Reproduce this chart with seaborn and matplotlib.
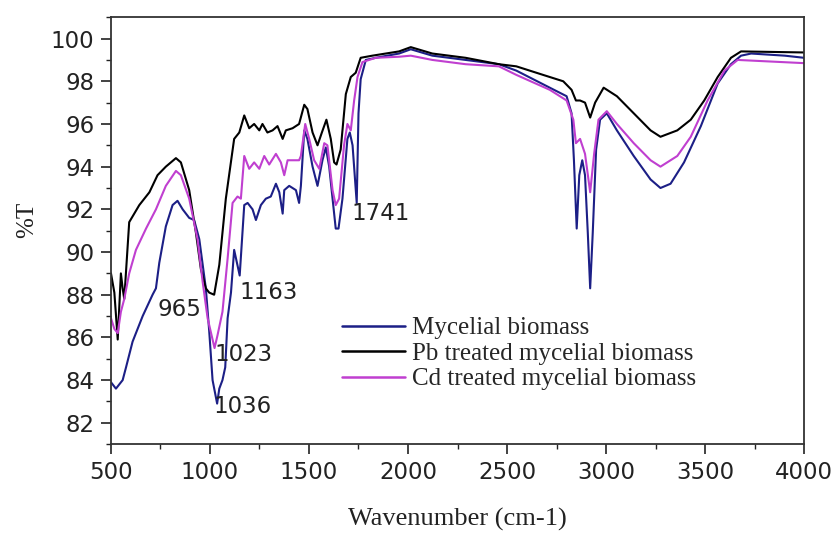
import matplotlib
matplotlib.use("Agg")
import matplotlib.pyplot as plt
import seaborn as sns
import pandas as pd
from matplotlib.ticker import MultipleLocator

# ---- data ----
myc_x = [500, 525, 559, 576, 609, 660, 710, 727, 744, 777, 811, 836, 862, 895, 920,
         946, 979, 996, 1013, 1036, 1047, 1063, 1077, 1089, 1106, 1122, 1150, 1173, 1190, 1215,
         1232, 1257, 1282, 1307, 1333, 1350, 1367, 1375, 1400, 1434, 1450, 1459, 1476, 1492, 1518,
         1543, 1568, 1585, 1602, 1619, 1635, 1649, 1669, 1694, 1706, 1720, 1741, 1750, 1761, 1787,
         1837, 1955, 2014, 2123, 2291, 2459, 2547, 2716, 2801, 2826, 2838, 2852, 2865, 2880, 2894,
         2908, 2920, 2933, 2950, 2970, 3004, 3055, 3140, 3225, 3275, 3326, 3394, 3479, 3564, 3631,
         3682, 3733, 3903, 4000]
myc_y = [83.9, 83.6, 84.0, 84.6, 85.8, 87.0, 88.0, 88.3, 89.5, 91.2, 92.2, 92.4, 92.0, 91.6, 91.5,
         90.6, 88.3, 86.3, 84.0, 82.9, 83.6, 84.0, 84.6, 86.9, 88.1, 90.1, 88.9, 92.2, 92.3, 92.0,
         91.5, 92.2, 92.5, 92.6, 93.2, 92.8, 91.8, 92.9, 93.1, 92.9, 92.3, 93.1, 95.7, 95.3, 94.0,
         93.1, 94.3, 94.9, 94.0, 92.5, 91.1, 91.1, 92.5, 95.3, 95.6, 95.0, 92.3, 96.5, 98.1, 99.0,
         99.1, 99.3, 99.5, 99.2, 99.0, 98.8, 98.5, 97.7, 97.3, 96.5, 94.3, 91.1, 93.6, 94.3, 93.6,
         90.9, 88.3, 90.9, 94.8, 96.2, 96.5, 95.7, 94.5, 93.4, 93.0, 93.2, 94.2, 95.9, 97.9, 98.8,
         99.2, 99.3, 99.2, 99.1]

pb_x = [500, 517, 534, 550, 559, 567, 592, 643, 694, 735, 777, 828, 853, 895, 929,
        954, 979, 996, 1021, 1047, 1080, 1122, 1148, 1173, 1198, 1223, 1249, 1265, 1290, 1316,
        1341, 1367, 1383, 1417, 1450, 1476, 1492, 1518, 1543, 1565, 1588, 1610, 1627, 1639, 1660,
        1686, 1711, 1736, 1761, 1820, 1955, 2014, 2123, 2291, 2459, 2547, 2682, 2784, 2826, 2848,
        2869, 2894, 2920, 2945, 2988, 3055, 3140, 3225, 3275, 3360, 3428, 3496, 3564, 3631, 3682,
        4000]
pb_y = [89.0, 88.1, 85.9, 89.0, 88.3, 87.8, 91.4, 92.2, 92.8, 93.6, 94.0, 94.4, 94.2, 92.9, 90.9,
        89.2, 88.3, 88.1, 88.0, 89.4, 92.5, 95.3, 95.6, 96.4, 95.8, 96.0, 95.7, 96.0, 95.6, 95.7,
        95.9, 95.3, 95.7, 95.8, 96.0, 96.9, 96.7, 95.6, 95.0, 95.6, 96.2, 95.3, 94.2, 94.1, 94.8,
        97.4, 98.2, 98.4, 99.1, 99.2, 99.4, 99.6, 99.3, 99.1, 98.8, 98.7, 98.3, 98.0, 97.6, 97.1,
        97.1, 97.0, 96.3, 97.0, 97.7, 97.3, 96.5, 95.7, 95.4, 95.7, 96.2, 97.1, 98.2, 99.1, 99.4,
        99.35]

cd_x = [500, 517, 534, 550, 567, 592, 626, 677, 727, 777, 828, 853, 895, 937, 963,
        988, 1023, 1038, 1063, 1089, 1114, 1139, 1156, 1173, 1198, 1223, 1249, 1274, 1299, 1333,
        1358, 1375, 1392, 1450, 1459, 1481, 1501, 1526, 1552, 1577, 1593, 1619, 1635, 1652, 1677,
        1694, 1711, 1728, 1745, 1770, 1837, 1955, 2014, 2123, 2291, 2459, 2547, 2716, 2801, 2835,
        2848, 2869, 2894, 2920, 2940, 2962, 3004, 3055, 3140, 3225, 3275, 3360, 3428, 3513, 3598,
        3665, 4000]
cd_y = [86.9, 86.4, 86.2, 87.2, 87.8, 89.0, 90.1, 91.1, 92.0, 93.1, 93.8, 93.6, 92.5, 90.6, 88.6,
        86.9, 85.5, 86.1, 87.2, 89.7, 92.3, 92.6, 92.5, 94.5, 93.9, 94.2, 93.9, 94.5, 94.1, 94.6,
        94.2, 93.6, 94.3, 94.3, 94.5, 96.0, 95.3, 94.3, 93.9, 95.1, 95.0, 92.9, 92.2, 92.5, 95.0,
        96.0, 95.7, 97.1, 98.2, 98.9, 99.1, 99.15, 99.2, 99.0, 98.8, 98.7, 98.3, 97.6, 97.1, 96.2,
        95.1, 95.3, 94.6, 92.8, 94.6, 96.2, 96.6, 96.0, 95.1, 94.3, 94.0, 94.5, 95.4, 97.1, 98.5,
        99.0, 98.85]

series_names = ["Mycelial biomass", "Pb treated mycelial biomass", "Cd treated mycelial biomass"]
series_colors = ["#1c1f86", "#000000", "#c03fd0"]

peak_labels = ["965", "1163", "1741", "1023", "1036"]
peak_x = [848, 1298, 1864, 1167, 1167]
peak_y = [87.3, 88.1, 91.8, 85.2, 82.75]

frames = []
for name, xs, ys in zip(series_names, [myc_x, pb_x, cd_x], [myc_y, pb_y, cd_y]):
    frames.append(pd.DataFrame({"wn": xs, "T": ys, "sample": name}))
df = pd.concat(frames, ignore_index=True)

sns.set_theme(style="ticks")
plt.rcParams["font.family"] = ["DejaVu Sans"]

fig = plt.figure(figsize=(8.37, 5.39), dpi=100)
ax = fig.add_axes([0.1326, 0.176, 0.828, 0.792])

sns.lineplot(data=df, x="wn", y="T", hue="sample", hue_order=series_names,
             palette=dict(zip(series_names, series_colors)), estimator=None, sort=False,
             linewidth=1.5, ax=ax, legend=False)

ax.set_xlim(500, 4000)
ax.set_ylim(81.0, 101.0)
ax.xaxis.set_major_locator(MultipleLocator(500))
ax.xaxis.set_minor_locator(MultipleLocator(250))
ax.yaxis.set_minor_locator(MultipleLocator(1))
ax.set_yticks([82, 84, 86, 88, 90, 92, 94, 96, 98, 100])
ax.tick_params(which="major", direction="out", length=7.5, width=1.2, labelsize=16.5, pad=4.5,
               top=False, right=False, colors="#222222", labelcolor="#222222")
ax.tick_params(which="minor", direction="out", length=3.5, width=1.0, top=False, right=False,
               colors="#222222")
for sp in ax.spines.values():
    sp.set_visible(True)
    sp.set_linewidth(1.3)
    sp.set_color("#333333")

serif = ["Liberation Serif", "DejaVu Serif"]
ax.set_xlabel("Wavenumber (cm-1)", fontsize=19, family=serif, color="#222222")
ax.set_ylabel("%T", fontsize=18, family=serif, color="#222222")
ax.xaxis.set_label_coords(0.5, -0.150)
ax.yaxis.set_label_coords(-0.105, 0.525)

for lab, px, py in zip(peak_labels, peak_x, peak_y):
    ax.text(px, py, lab, fontsize=16.5, ha="center", va="center", color="#222222")

handles = [plt.Line2D([], [], color=c, lw=1.8) for c in series_colors]
leg = ax.legend(handles, series_names, loc="upper left", bbox_to_anchor=(0.334, 0.298),
                frameon=False, prop={"family": serif, "size": 18}, handlelength=2.5,
                handletextpad=0.3, labelspacing=0.12, borderpad=0, borderaxespad=0)

fig.savefig("out.png", dpi=100)
